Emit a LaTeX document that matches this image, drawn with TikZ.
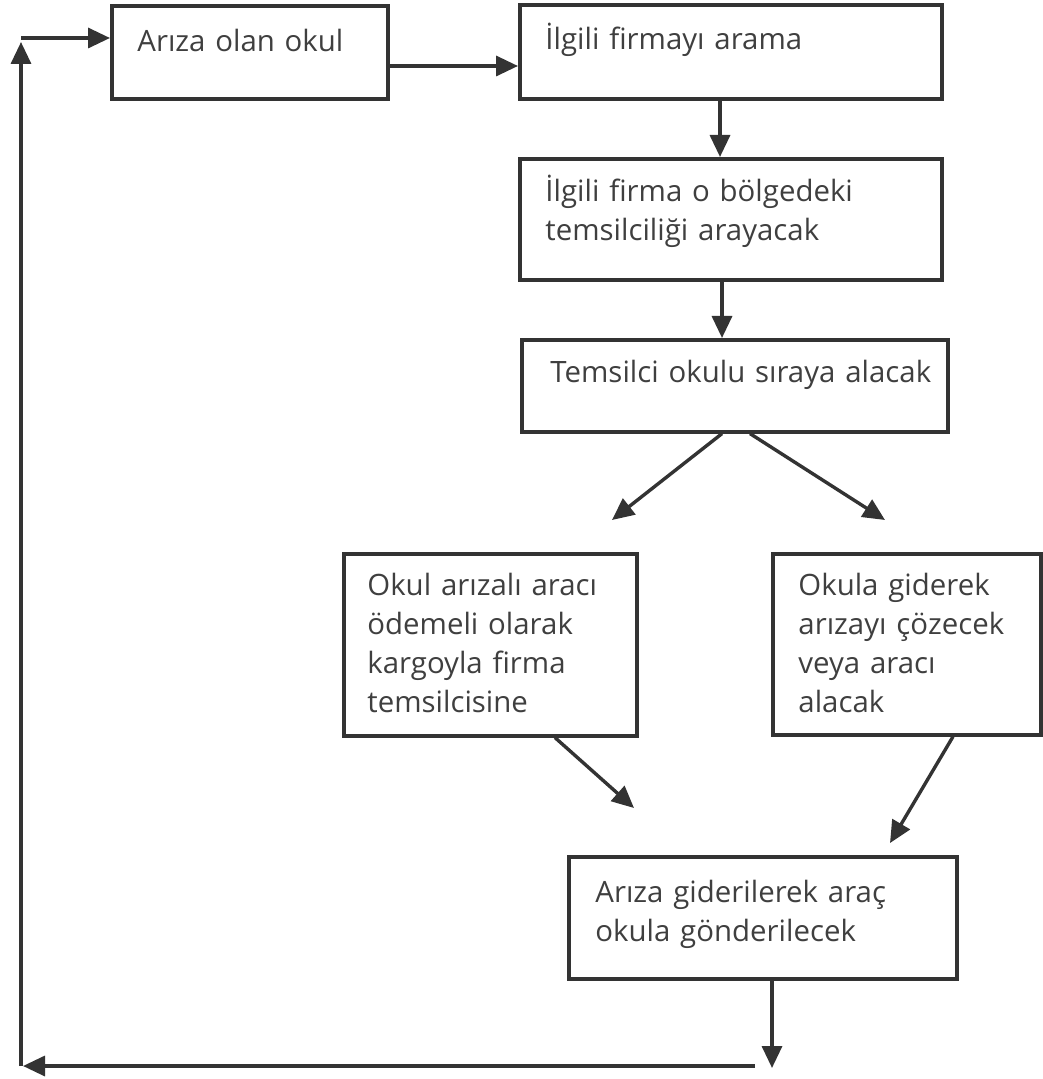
\documentclass[tikz,border=0pt]{standalone}
\usepackage{fontspec}
\setmainfont{Open Sans}
\usetikzlibrary{arrows.meta}
\definecolor{ink}{HTML}{333333}
\definecolor{inktext}{HTML}{3F3F3F}
\begin{document}
\begin{tikzpicture}[x=0.5pt,y=-0.5pt,
  box/.style={draw=ink, line width=1.8pt, inner sep=0pt, anchor=north west},
  txt/.style={anchor=base west, inner sep=0pt, align=left, text width=200pt,
    font=\fontsize{14.7}{19.5}\selectfont, text=inktext},
  arr/.style={draw=ink, line width=1.7pt, -{Triangle[length=11pt,width=10pt]}}]
\useasboundingbox (0,0) rectangle (1042,1079);
% boxes
\node[box, minimum width=138pt, minimum height=46.5pt] (b1) at (110,4) {};
\node[box, minimum width=211pt, minimum height=47pt] (b2) at (518,3) {};
\node[box, minimum width=211pt, minimum height=60.5pt] (b3) at (518,157) {};
\node[box, minimum width=213pt, minimum height=46pt] (b4) at (520,338) {};
\node[box, minimum width=146.5pt, minimum height=91pt] (b5) at (342,552) {};
\node[box, minimum width=134pt, minimum height=90.5pt] (b6) at (771,552) {};
\node[box, minimum width=194pt, minimum height=61pt] (b7) at (567,855) {};
% texts
\node[txt] (t1) at (137,52) {Arıza olan okul};
\node[txt] (t2) at (545,50) {İlgili firmayı arama};
\node[txt] (t3) at (545,202) {İlgili firma o bölgedeki\\temsilciliği arayacak};
\node[txt] (t4) at (550,382) {Temsilci okulu sıraya alacak};
\node[txt] (t5) at (367,595) {Okul arızalı aracı\\ödemeli olarak\\kargoyla firma\\temsilcisine};
\node[txt] (t6) at (798,595) {Okula giderek\\arızayı çözecek\\veya aracı\\alacak};
\node[txt] (t7) at (595,902) {Arıza giderilerek araç\\okula gönderilecek};
% free ends
\coordinate (c12) at (386,66);
\coordinate (tipL) at (612,520);
\coordinate (tipR) at (885,520);
\coordinate (tip5) at (634,808);
\coordinate (tip6) at (890,843);
\coordinate (tip7) at (772,1068);
\coordinate (botR) at (755,1066);
\coordinate (botL) at (21,1066);
\coordinate (topL) at (21,38);
% connectors
\draw[arr] (c12) -- (c12 -| b2.west);
\draw[arr] (b2.south -| 720,0) -- (b3.north -| 720,0);
\draw[arr] (b3.south -| 722,0) -- (b4.north -| 722,0);
\draw[arr] (b4.south -| 722,0) -- (tipL);
\draw[arr] (b4.south -| 750,0) -- (tipR);
\draw[arr] (b5.south -| 555,0) -- (tip5);
\draw[arr] (b6.south -| 953,0) -- (tip6);
\draw[arr] (b7.south -| tip7) -- (tip7);
\draw[arr] (botR) -- ([xshift=1pt]botL);
\draw[arr] (botL) -- ([yshift=-2pt]topL);
\draw[arr] (topL) -- (topL -| b1.west);
\end{tikzpicture}
\end{document}
